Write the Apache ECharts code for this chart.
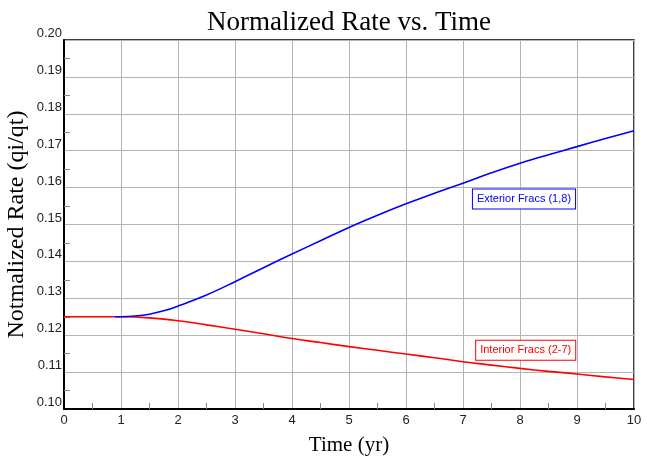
<!DOCTYPE html>
<html>
<head>
<meta charset="utf-8">
<script src="https://cdn.jsdelivr.net/npm/echarts@6/dist/echarts.min.js"></script>
<style>
  html, body { margin: 0; padding: 0; background: #ffffff; }
  #chart { width: 647px; height: 456px; }
</style>
</head>
<body>
<div id="chart"></div>
<script>
// Exterior fractures (1,8): normalized rate over time
const exteriorTime = [0.9, 1, 1.25, 1.5, 1.75, 2, 2.5, 3, 3.5, 4, 4.5, 5, 5.5, 6, 6.5, 7, 7.5, 8, 8.5, 9, 9.5, 10];
const exteriorRate = [0.1250, 0.1250, 0.1252, 0.1257, 0.1266, 0.1279, 0.1309, 0.1345, 0.1383, 0.1420, 0.1456, 0.1492, 0.1525, 0.1556, 0.1585, 0.1612, 0.1640, 0.1666, 0.1689, 0.1711, 0.1733, 0.1754];

// Interior fractures (2-7): normalized rate over time
const interiorTime = [0, 0.5, 1, 1.5, 2, 2.5, 3, 3.5, 4, 4.5, 5, 5.5, 6, 6.5, 7, 7.5, 8, 8.5, 9, 9.5, 10];
const interiorRate = [0.1250, 0.1250, 0.1250, 0.1247, 0.1239, 0.1228, 0.1216, 0.1204, 0.1191, 0.1180, 0.1169, 0.1159, 0.1149, 0.1139, 0.1128, 0.1119, 0.1110, 0.1102, 0.1095, 0.1087, 0.1080];

// Series labels and where they sit (data coordinates)
const exteriorLabel = 'Exterior Fracs (1,8)';
const exteriorLabelAt = [8.07, 0.1569];
const interiorLabel = 'Interior Fracs (2-7)';
const interiorLabelAt = [8.1, 0.1159];

const chart = echarts.init(document.getElementById('chart'), null, { renderer: 'canvas' });

const serif = 'Liberation Serif, Times New Roman, serif';
const sans = 'Liberation Sans, Arial, sans-serif';

function pairs(xs, ys) { return xs.map((x, i) => [x, ys[i]]); }

function boxLabel(text, at, color) {
  return {
    symbol: 'rect',
    symbolSize: 0,
    silent: true,
    animation: false,
    data: [{
      coord: at,
      label: {
        show: true,
        position: 'inside',
        formatter: text,
        color: color,
        fontFamily: sans,
        fontSize: 11,
        backgroundColor: '#ffffff',
        borderColor: color,
        borderWidth: 1,
        padding: [4, 4, 4, 4]
      }
    }]
  };
}

chart.setOption({
  backgroundColor: '#ffffff',
  animation: false,
  title: {
    text: 'Normalized Rate vs. Time',
    left: 202,
    top: 4,
    textStyle: { fontFamily: serif, fontSize: 27, fontWeight: 'normal', color: '#000000' }
  },
  grid: {
    left: 64, right: 13, top: 40, bottom: 47,
    containLabel: false,
    outerBoundsMode: 'none',
    show: true, borderColor: '#000000', borderWidth: 1.5
  },
  xAxis: {
    type: 'value',
    min: 0, max: 10, interval: 1,
    name: 'Time (yr)',
    nameLocation: 'middle',
    nameGap: 26,
    nameTextStyle: { fontFamily: serif, fontSize: 21, color: '#000000' },
    axisLine: { show: true, onZero: false, lineStyle: { color: '#000000', width: 2 } },
    axisTick: { show: false, inside: true },
    minorTick: { show: true, splitNumber: 2, length: 6, lineStyle: { color: '#888888', width: 1 } },
    axisLabel: { fontFamily: sans, fontSize: 13, color: '#222222', margin: 5 },
    splitLine: { show: true, lineStyle: { color: '#b4b4b4', width: 1 } }
  },
  yAxis: {
    type: 'value',
    min: 0.10, max: 0.20, interval: 0.01,
    name: 'Notmalized Rate (qi/qt)',
    nameLocation: 'middle',
    nameGap: 35,
    nameRotate: 90,
    nameMoveOverlap: false,
    nameTextStyle: { fontFamily: serif, fontSize: 24, color: '#000000' },
    axisLine: { show: true, onZero: false, lineStyle: { color: '#000000', width: 2 } },
    axisTick: { show: false, inside: true },
    minorTick: { show: true, splitNumber: 2, length: 6, lineStyle: { color: '#888888', width: 1 } },
    axisLabel: {
      fontFamily: sans, fontSize: 13, color: '#222222', margin: 2,
      verticalAlign: 'bottom',
      formatter: v => v.toFixed(2)
    },
    splitLine: { show: true, lineStyle: { color: '#b4b4b4', width: 1 } }
  },
  series: [
    {
      name: interiorLabel,
      type: 'line',
      data: pairs(interiorTime, interiorRate),
      showSymbol: false,
      smooth: 0.4,
      z: 2,
      lineStyle: { color: '#ff0000', width: 1.6 },
      markPoint: boxLabel(interiorLabel, interiorLabelAt, '#ff0000')
    },
    {
      name: exteriorLabel,
      type: 'line',
      data: pairs(exteriorTime, exteriorRate),
      showSymbol: false,
      smooth: 0.4,
      z: 3,
      lineStyle: { color: '#0000ff', width: 1.6 },
      markPoint: boxLabel(exteriorLabel, exteriorLabelAt, '#0000ff')
    }
  ]
});
</script>
</body>
</html>
